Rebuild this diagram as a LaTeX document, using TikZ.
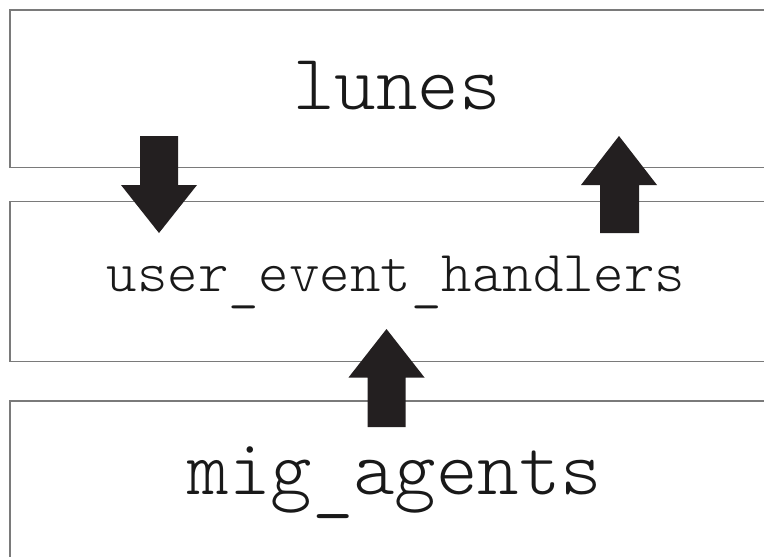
\documentclass[tikz,border=0pt]{standalone}
\usepackage{fontspec}
\newcommand{\lowus}{\lower0.13em\hbox{\_}}
\begin{document}
\begin{tikzpicture}[x=1pt,y=-1pt,
  layerbox/.style={draw=black!52, line width=1.3pt, fill=none, inner sep=0pt},
  bigword/.style={font=\ttfamily\fontseries{l}\fontsize{79}{79}\selectfont, text=black!90, anchor=base, inner sep=0pt},
  midword/.style={font=\ttfamily\fontseries{l}\fontsize{58}{58}\selectfont, text=black!90, anchor=base, inner sep=0pt},
  blockarrow/.style={fill={rgb,255:red,35;green,31;blue,32}, draw=none}]
\useasboundingbox (0,0) rectangle (764,557);
\clip (0,0) rectangle (764,557);
% layers
\node[layerbox, minimum width=772pt, minimum height=157.7pt] (lunesbox) at (396,88.85) {};
\node[layerbox, minimum width=772pt, minimum height=160pt] (uehbox) at (396,281.7) {};
\node[layerbox, minimum width=772pt, minimum height=179pt] (migbox) at (396,490.5) {};
% labels
\node[bigword] (lunes) at (397,109) {lunes};
\node[midword] (ueh) at (396,291) {user\lowus event\lowus handlers};
\node[bigword] (mig) at (395,494) {mig\lowus agents};
% block arrows
\coordinate (dtip) at (159,233);
\coordinate (utip) at (619,136);
\coordinate (mtip) at (386.5,329);
\fill[blockarrow] (140,136) -- (178,136) -- (178,185) -- (197,185) -- (dtip) -- (121,185) -- (140,185) -- cycle;
\fill[blockarrow] (utip) -- (657,185) -- (639,185) -- (639,233) -- (600,233) -- (600,185) -- (581,185) -- cycle;
\fill[blockarrow] (mtip) -- (424.5,377.5) -- (405.5,377.5) -- (405.5,427) -- (367.5,427) -- (367.5,377.5) -- (348.5,377.5) -- cycle;
\end{tikzpicture}
\end{document}
